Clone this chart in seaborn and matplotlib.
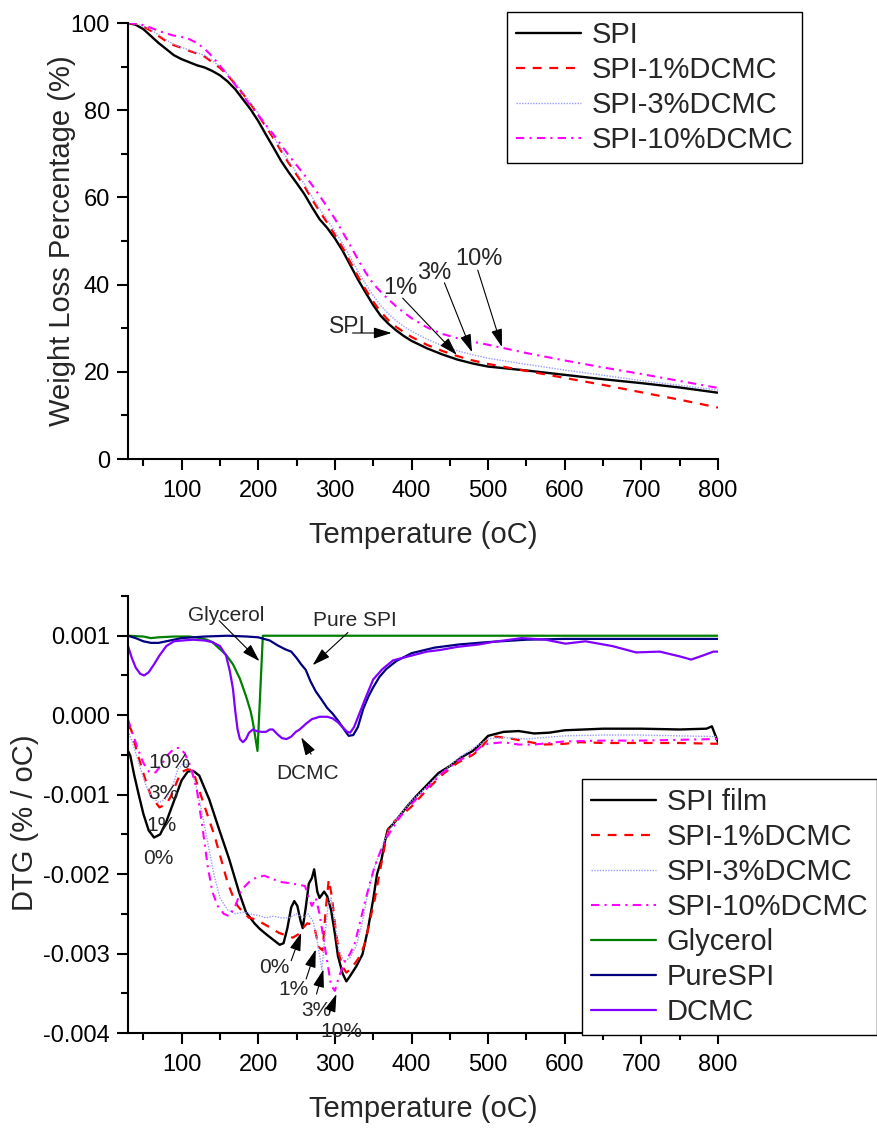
import matplotlib
matplotlib.use("Agg")
import matplotlib.pyplot as plt
import pandas as pd
import seaborn as sns
from matplotlib.ticker import MultipleLocator

# ---- TGA (weight loss, %) ----
tga_temp = [30, 40, 50, 60, 70, 80, 90, 100, 110, 120,
            130, 140, 150, 160, 170, 180, 190, 200, 210, 220,
            230, 240, 250, 260, 270, 280, 290, 300, 310, 320,
            330, 340, 350, 360, 370, 380, 390, 400, 420, 440,
            460, 480, 500, 550, 600, 650, 700, 750, 800]
tga_spi = [100.0, 99.6, 98.6, 97.0, 95.4, 94.0, 92.6, 91.7, 91.0, 90.3,
           89.8, 89.0, 88.0, 86.6, 84.8, 82.5, 80.2, 77.5, 74.4, 71.4,
           68.3, 65.7, 63.3, 60.8, 57.8, 55.0, 53.0, 50.6, 47.8, 44.5,
           41.2, 38.2, 35.3, 32.8, 31.0, 29.5, 28.2, 27.1, 25.4, 24.0,
           22.8, 21.9, 21.2, 20.3, 19.3, 18.3, 17.4, 16.4, 15.2]
tga_1 = [100.0, 99.8, 99.2, 98.2, 97.0, 95.8, 94.9, 94.3, 93.6, 93.0,
         92.3, 91.0, 89.7, 88.0, 86.0, 83.8, 81.4, 78.9, 76.2, 73.5,
         70.6, 67.8, 65.2, 62.6, 59.6, 56.8, 54.2, 51.4, 48.5, 45.2,
         41.9, 38.9, 36.1, 33.7, 31.8, 30.3, 29.1, 28.0, 26.2, 24.8,
         23.6, 22.6, 21.8, 20.2, 18.6, 17.0, 15.3, 13.6, 11.8]
tga_3 = [100.0, 99.8, 99.3, 98.4, 97.3, 96.1, 95.1, 94.4, 93.8, 93.2,
         92.6, 91.4, 90.0, 88.3, 86.3, 84.1, 81.7, 79.3, 76.6, 73.9,
         71.0, 68.3, 65.7, 63.1, 60.2, 57.4, 54.9, 52.2, 49.4, 46.3,
         43.1, 40.2, 37.5, 35.2, 33.3, 31.7, 30.4, 29.3, 27.5, 26.0,
         24.8, 23.9, 23.1, 21.7, 20.4, 19.2, 18.0, 16.9, 15.8]
tga_10 = [100.0, 99.9, 99.5, 98.9, 98.2, 97.6, 97.1, 96.8, 96.3, 95.4,
          94.1, 92.3, 90.2, 88.0, 85.8, 83.4, 81.0, 78.8, 76.6, 74.4,
          72.0, 69.6, 67.4, 65.2, 62.9, 60.4, 57.8, 55.1, 52.1, 49.0,
          45.8, 42.8, 40.2, 38.3, 36.6, 35.0, 33.6, 32.3, 30.2, 28.7,
          27.7, 26.9, 26.2, 24.3, 22.6, 21.0, 19.5, 17.9, 16.3]

# ---- DTG (%/oC) ----
dtg_spi_t = [30, 33, 38, 44, 50, 57, 64, 72, 80, 90,
             100, 108, 115, 123, 136, 149, 162, 175, 184, 195,
             202, 212, 220, 228, 233, 238, 243, 247, 251, 255,
             258, 262, 266, 270, 273, 277, 280, 286, 290, 295,
             300, 304, 310, 315, 320, 328, 336, 343, 350, 355,
             361, 365, 369, 376, 385, 395, 406, 420, 435, 450,
             465, 480, 490, 500, 520, 540, 560, 580, 600, 650,
             700, 750, 785, 792, 800]
dtg_spi = [-0.00045, -0.00051, -0.00075, -0.00100, -0.00124, -0.00145, -0.00154, -0.00150, -0.00134, -0.00108,
           -0.00082, -0.00071, -0.00070, -0.00076, -0.00106, -0.00144, -0.00181, -0.00223, -0.00248, -0.00262,
           -0.00269, -0.00277, -0.00283, -0.00289, -0.00287, -0.00268, -0.00242, -0.00234, -0.00240, -0.00258,
           -0.00268, -0.00242, -0.00212, -0.00205, -0.00194, -0.00222, -0.00230, -0.00222, -0.00228, -0.00245,
           -0.00275, -0.00303, -0.00325, -0.00335, -0.00328, -0.00316, -0.00301, -0.00270, -0.00232, -0.00200,
           -0.00181, -0.00160, -0.00144, -0.00137, -0.00126, -0.00114, -0.00102, -0.00088, -0.00073, -0.00064,
           -0.00053, -0.00045, -0.00036, -0.00026, -0.00021, -0.00020, -0.00023, -0.00022, -0.00019, -0.00017,
           -0.00017, -0.00018, -0.00017, -0.00014, -0.00034]

dtg_1_t = [30, 34, 42, 51, 60, 71, 80, 86, 92, 99,
           108, 115, 121, 130, 143, 152, 160, 167, 173, 180,
           188, 197, 206, 215, 227, 236, 245, 252, 258, 264,
           269, 274, 279, 284, 288, 292, 296, 301, 306, 311,
           315, 322, 333, 340, 345, 352, 360, 366, 371, 377,
           386, 400, 420, 440, 460, 480, 490, 500, 510, 527,
           550, 571, 600, 620, 650, 700, 750, 800]
dtg_1 = [-0.00013, -0.00018, -0.00047, -0.00076, -0.00102, -0.00116, -0.00112, -0.00102, -0.00088, -0.00072,
         -0.00068, -0.00070, -0.00089, -0.00115, -0.00152, -0.00183, -0.00211, -0.00228, -0.00240, -0.00248,
         -0.00255, -0.00257, -0.00262, -0.00267, -0.00274, -0.00277, -0.00280, -0.00276, -0.00268, -0.00262,
         -0.00263, -0.00270, -0.00292, -0.00296, -0.00245, -0.00207, -0.00228, -0.00270, -0.00303, -0.00318,
         -0.00324, -0.00318, -0.00303, -0.00285, -0.00261, -0.00232, -0.00190, -0.00160, -0.00139, -0.00134,
         -0.00127, -0.00115, -0.00094, -0.00075, -0.00060, -0.00050, -0.00042, -0.00030, -0.00027, -0.00029,
         -0.00033, -0.00037, -0.00036, -0.00034, -0.00035, -0.00035, -0.00035, -0.00036]

dtg_3_t = [30, 36, 44, 52, 60, 70, 80, 88, 95, 103,
           110, 118, 126, 134, 142, 150, 160, 170, 180, 190,
           200, 210, 220, 230, 240, 250, 258, 265, 272, 278,
           283, 287, 291, 295, 300, 305, 312, 320, 328, 336,
           344, 352, 360, 368, 375, 385, 400, 420, 440, 460,
           480, 500, 520, 550, 600, 650, 700, 750, 800]
dtg_3 = [-0.00020, -0.00035, -0.00060, -0.00085, -0.00102, -0.00110, -0.00105, -0.00090, -0.00068, -0.00060,
         -0.00065, -0.00085, -0.00120, -0.00160, -0.00200, -0.00230, -0.00245, -0.00250, -0.00248, -0.00250,
         -0.00252, -0.00255, -0.00253, -0.00255, -0.00255, -0.00250, -0.00255, -0.00250, -0.00260, -0.00290,
         -0.00320, -0.00280, -0.00240, -0.00230, -0.00260, -0.00295, -0.00310, -0.00305, -0.00290, -0.00260,
         -0.00220, -0.00190, -0.00170, -0.00150, -0.00138, -0.00125, -0.00108, -0.00090, -0.00072, -0.00055,
         -0.00042, -0.00030, -0.00028, -0.00030, -0.00026, -0.00025, -0.00025, -0.00026, -0.00027]

dtg_10_t = [30, 35, 42, 50, 58, 66, 74, 82, 90, 97,
            104, 112, 120, 127, 134, 140, 147, 155, 162, 170,
            178, 188, 198, 208, 218, 230, 245, 261, 266, 270,
            275, 280, 285, 290, 295, 300, 305, 313, 320, 326,
            333, 339, 346, 352, 360, 367, 374, 385, 400, 420,
            440, 460, 480, 490, 500, 520, 540, 560, 600, 650,
            700, 750, 800]
dtg_10 = [-0.00005, -0.00020, -0.00040, -0.00060, -0.00072, -0.00072, -0.00062, -0.00050, -0.00042, -0.00041,
          -0.00048, -0.00065, -0.00095, -0.00140, -0.00190, -0.00222, -0.00240, -0.00250, -0.00253, -0.00240,
          -0.00220, -0.00210, -0.00204, -0.00202, -0.00206, -0.00210, -0.00212, -0.00215, -0.00230, -0.00240,
          -0.00230, -0.00250, -0.00280, -0.00310, -0.00340, -0.00347, -0.00330, -0.00310, -0.00300, -0.00287,
          -0.00260, -0.00236, -0.00210, -0.00190, -0.00170, -0.00155, -0.00144, -0.00128, -0.00112, -0.00092,
          -0.00073, -0.00058, -0.00048, -0.00040, -0.00036, -0.00034, -0.00037, -0.00037, -0.00033, -0.00032,
          -0.00032, -0.00031, -0.00030]

gly_t = [30, 50, 60, 70, 90, 110, 125, 133, 140, 149,
         158, 167, 176, 184, 190, 193, 196, 199, 206, 400, 800]
gly = [0.00100, 0.00099, 0.00097, 0.00098, 0.00099, 0.00099, 0.00097, 0.00095, 0.00092, 0.00084,
       0.00076, 0.00064, 0.00046, 0.00024, 0.00005, -0.00009, -0.00027, -0.00045, 0.00100, 0.00100, 0.00100]

pure_t = [30, 40, 50, 60, 70, 80, 90, 100, 130, 160,
          185, 200, 215, 225, 235, 243, 250, 256, 262, 268,
          275, 283, 290, 297, 305, 312, 318, 324, 330, 337,
          344, 350, 358, 367, 380, 400, 430, 462, 500, 550,
          600, 700, 800]
pure = [0.00100, 0.00097, 0.00093, 0.00091, 0.00091, 0.00093, 0.00095, 0.00097, 0.00099, 0.00100,
        0.00099, 0.00098, 0.00094, 0.00088, 0.00083, 0.00080, 0.00072, 0.00064, 0.00057, 0.00043,
        0.00030, 0.00019, 0.00009, 0.00002, -0.00008, -0.00018, -0.00026, -0.00025, -0.00015, 0.00008,
        0.00024, 0.00035, 0.00048, 0.00058, 0.00068, 0.00078, 0.00085, 0.00089, 0.00092, 0.00095,
        0.00096, 0.00096, 0.00096]

dcmc_t = [30, 35, 40, 46, 51, 57, 64, 71, 80, 90,
          101, 115, 130, 140, 150, 158, 163, 167, 170, 173,
          176, 180, 184, 188, 193, 198, 204, 210, 215, 219,
          225, 231, 237, 243, 249, 254, 262, 270, 280, 290,
          297, 304, 310, 316, 320, 325, 332, 341, 350, 362,
          376, 384, 400, 420, 437, 460, 488, 505, 544, 575,
          601, 627, 662, 693, 724, 750, 765, 780, 794, 800]
dcmc = [0.00087, 0.00072, 0.00060, 0.00052, 0.00050, 0.00054, 0.00064, 0.00075, 0.00087, 0.00093,
        0.00094, 0.00095, 0.00094, 0.00092, 0.00087, 0.00075, 0.00055, 0.00033, 0.00005, -0.00018,
        -0.00030, -0.00034, -0.00030, -0.00022, -0.00018, -0.00020, -0.00021, -0.00021, -0.00018, -0.00018,
        -0.00024, -0.00029, -0.00030, -0.00027, -0.00021, -0.00018, -0.00011, -0.00005, -0.00002, -0.00002,
        -0.00004, -0.00009, -0.00015, -0.00021, -0.00022, -0.00015, 0.00002, 0.00024, 0.00045, 0.00058,
        0.00069, 0.00071, 0.00075, 0.00080, 0.00082, 0.00086, 0.00089, 0.00092, 0.00097, 0.00095,
        0.00090, 0.00093, 0.00087, 0.00079, 0.00080, 0.00074, 0.00070, 0.00075, 0.00080, 0.00080]

x_ticks = [100, 200, 300, 400, 500, 600, 700, 800]
tga_yticks = [0, 20, 40, 60, 80, 100]
dtg_yticks = [-0.004, -0.003, -0.002, -0.001, 0.0, 0.001]
dtg_ylabels = ["-0.004", "-0.003", "-0.002", "-0.001", "0.000", "0.001"]

RED_DASH = (0, (4, 3.5))
LAV_DOT = (0, (1, 1))
MAG_DASHDOT = (0, (4, 2.5, 1, 2.5))

sns.set_theme(style="ticks")
plt.rcParams["font.family"] = ["Liberation Sans", "DejaVu Sans"]
plt.rcParams["axes.unicode_minus"] = False
plt.rcParams["axes.linewidth"] = 1.5


def line(ax, t, v, label, color, ls="-", lw=1.5):
    df = pd.DataFrame({"T": t, "v": v})
    sns.lineplot(data=df, x="T", y="v", ax=ax, color=color, linestyle=ls,
                 linewidth=lw, label=label, estimator=None, sort=False, legend=False)


def style(ax):
    for s in ["top", "right"]:
        ax.spines[s].set_visible(False)
    for s in ["left", "bottom"]:
        ax.spines[s].set_color("black")
        ax.spines[s].set_linewidth(1.5)
    ax.tick_params(which="major", direction="out", length=8, width=1.5,
                   labelsize=17, colors="black", pad=5)
    ax.tick_params(which="minor", direction="out", length=5, width=1.5, colors="black")
    ax.tick_params(axis="x", pad=7)
    ax.set_xlim(30, 800)
    ax.set_xticks(x_ticks)
    ax.xaxis.set_minor_locator(MultipleLocator(50))
    ax.set_xlabel("Temperature (oC)", fontsize=21, labelpad=14)


def arrow(ax, tail, head):
    ax.annotate("", xy=head, xytext=tail,
                arrowprops=dict(arrowstyle="-|>,head_length=0.55,head_width=0.17",
                                color="black", lw=0.8, shrinkA=0, shrinkB=0,
                                mutation_scale=20))


def legend(ax, anchor):
    leg = ax.legend(loc="upper left", bbox_to_anchor=anchor,
                    bbox_transform=fig.transFigure, fontsize=21, frameon=True,
                    fancybox=False, edgecolor="black", framealpha=1, borderaxespad=0,
                    labelspacing=0.24, handlelength=2.25, handletextpad=0.35, borderpad=0.3)
    leg.get_frame().set_linewidth(1.0)


fig = plt.figure(figsize=(8.77, 11.31), dpi=100)
W, H = 877, 1131
ax1 = fig.add_axes([128 / W, 1 - 459 / H, 590 / W, 436 / H])
ax2 = fig.add_axes([128 / W, 1 - 1033 / H, 590 / W, 437 / H])

# top panel
line(ax1, tga_temp, tga_spi, "SPI", "black", "-", 1.7)
line(ax1, tga_temp, tga_1, "SPI-1%DCMC", "#ff0000", RED_DASH, 1.6)
line(ax1, tga_temp, tga_3, "SPI-3%DCMC", "#9a9aff", LAV_DOT, 1.0)
line(ax1, tga_temp, tga_10, "SPI-10%DCMC", "#ff00ff", MAG_DASHDOT, 1.5)
style(ax1)
ax1.set_ylim(0, 100)
ax1.set_yticks(tga_yticks)
ax1.yaxis.set_minor_locator(MultipleLocator(10))
ax1.set_ylabel("Weight Loss Percentage (%)", fontsize=21)
ax1.yaxis.set_label_coords(-0.088, 0.5)

ax1.text(316.6, 30.3, "SPI", fontsize=16.5, ha="center", va="center")
arrow(ax1, (323, 28.9), (374, 28.9))
ax1.text(386, 39.2, "1%", fontsize=17, ha="center", va="center")
arrow(ax1, (388.5, 36.9), (459, 23.9))
ax1.text(430, 42.7, "3%", fontsize=17, ha="center", va="center")
arrow(ax1, (443, 40.4), (479, 24.5))
ax1.text(488, 45.9, "10%", fontsize=17, ha="center", va="center")
arrow(ax1, (486.5, 43.3), (518, 25.7))

legend(ax1, (507 / W, 1 - 12 / H))

# bottom panel
line(ax2, dtg_spi_t, dtg_spi, "SPI film", "black", "-", 1.7)
line(ax2, dtg_1_t, dtg_1, "SPI-1%DCMC", "#ff0000", RED_DASH, 1.6)
line(ax2, dtg_3_t, dtg_3, "SPI-3%DCMC", "#9a9aff", LAV_DOT, 1.0)
line(ax2, dtg_10_t, dtg_10, "SPI-10%DCMC", "#ff00ff", MAG_DASHDOT, 1.5)
line(ax2, gly_t, gly, "Glycerol", "#008000", "-", 1.6)
line(ax2, pure_t, pure, "PureSPI", "#000080", "-", 1.6)
line(ax2, dcmc_t, dcmc, "DCMC", "#8000ff", "-", 1.6)
style(ax2)
ax2.set_ylim(-0.004, 0.0015)
ax2.set_yticks(dtg_yticks)
ax2.set_yticklabels(dtg_ylabels)
ax2.yaxis.set_minor_locator(MultipleLocator(0.0005))
ax2.set_ylabel("DTG (% / oC)", fontsize=21)
ax2.yaxis.set_label_coords(-0.151, 0.48)

ax2.text(158, 0.001253, "Glycerol", fontsize=15, ha="center", va="center")
arrow(ax2, (149, 0.00119), (201.5, 0.00068))
ax2.text(326, 0.00119, "Pure SPI", fontsize=15, ha="center", va="center")
arrow(ax2, (317, 0.00104), (271, 0.00063))
ax2.text(264, -0.00074, "DCMC", fontsize=15, ha="center", va="center")
arrow(ax2, (269, -0.00049), (256, -0.00028))

ax2.text(84, -0.00059, "10%", fontsize=15, ha="center", va="center")
ax2.text(76.5, -0.00098, "3%", fontsize=15, ha="center", va="center")
ax2.text(74, -0.00139, "1%", fontsize=15, ha="center", va="center")
ax2.text(70, -0.0018, "0%", fontsize=15, ha="center", va="center")

ax2.text(221, -0.00317, "0%", fontsize=15, ha="center", va="center")
arrow(ax2, (243, -0.00309), (256, -0.00274))
ax2.text(246, -0.00345, "1%", fontsize=15, ha="center", va="center")
arrow(ax2, (262.5, -0.00332), (275, -0.00295))
ax2.text(276, -0.00372, "3%", fontsize=15, ha="center", va="center")
arrow(ax2, (276, -0.00351), (285, -0.0032))
ax2.text(308, -0.00398, "10%", fontsize=15, ha="center", va="center")
arrow(ax2, (293, -0.00374), (302, -0.00351))

legend(ax2, (582 / W, 1 - 779 / H))

fig.savefig("out.png", dpi=100)
